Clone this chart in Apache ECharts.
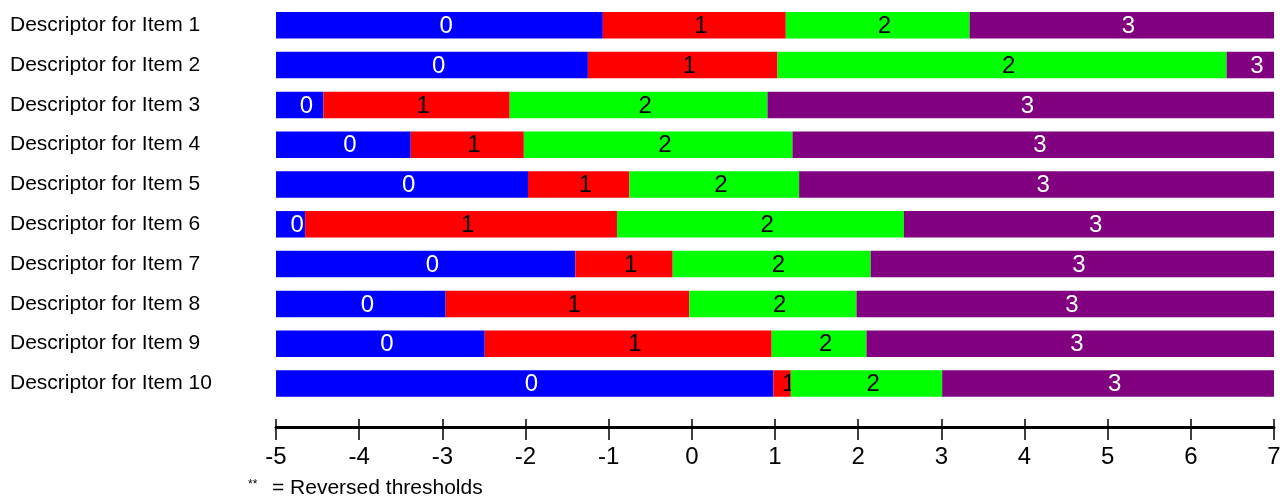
<!DOCTYPE html>
<html>
<head>
<meta charset="utf-8">
<script src="https://cdn.jsdelivr.net/npm/echarts@6/dist/echarts.min.js"></script>
<style>
  html, body { margin: 0; padding: 0; background: #ffffff; }
  #chart { width: 1284px; height: 498px; }
</style>
</head>
<body>
<div id="chart"></div>
<script>
// ---- data ----
const categories = [
  'Descriptor for Item 1', 'Descriptor for Item 2', 'Descriptor for Item 3',
  'Descriptor for Item 4', 'Descriptor for Item 5', 'Descriptor for Item 6',
  'Descriptor for Item 7', 'Descriptor for Item 8', 'Descriptor for Item 9',
  'Descriptor for Item 10'
];
const threshold1 = [-1.07, -1.25, -4.43, -3.38, -1.97, -4.65, -1.40, -2.96, -2.49, 0.98];
const threshold2 = [1.13, 1.03, -2.19, -2.02, -0.75, -0.90, -0.23, -0.03, 0.96, 1.19];
const threshold3 = [3.34, 6.43, 0.91, 1.21, 1.29, 2.55, 2.15, 1.98, 2.10, 3.01];
const scaleMin = -5;
const scaleMax = 7;
const segmentLabels = ['0', '1', '2', '3'];
const footnote = '= Reversed thresholds';

// ---- styles ----
const segColors = ['#0000ff', '#ff0000', '#00ff00', '#800080'];
const segTextColors = ['#ffffff', '#000000', '#000000', '#ffffff'];
const FONT = '"Liberation Sans", Arial, sans-serif';

const bounds = [
  categories.map(() => scaleMin),
  threshold1,
  threshold2,
  threshold3,
  categories.map(() => scaleMax)
];

function makeSeries(k) {
  const data = categories.map((c, i) => [bounds[k][i], bounds[k + 1][i], i]);
  return {
    type: 'custom',
    name: segmentLabels[k],
    xAxisIndex: 0,
    yAxisIndex: 0,
    encode: { x: [0, 1], y: 2 },
    data: data,
    renderItem: function (params, api) {
      const s = api.coord([api.value(0), api.value(2)]);
      const e = api.coord([api.value(1), api.value(2)]);
      const h = api.size([0, 1])[1] * 0.665;
      return {
        type: 'group',
        children: [
          {
            type: 'rect',
            shape: { x: s[0], y: s[1] - h / 2, width: e[0] - s[0], height: h },
            style: { fill: segColors[k] }
          },
          {
            type: 'text',
            x: (s[0] + e[0]) / 2,
            y: s[1] + 1,
            style: {
              text: segmentLabels[k],
              fill: segTextColors[k],
              font: '24px ' + FONT,
              align: 'left',
              verticalAlign: 'middle'
            }
          }
        ]
      };
    }
  };
}

const chart = echarts.init(document.getElementById('chart'), null, { renderer: 'canvas' });
chart.setOption({
  animation: false,
  backgroundColor: '#ffffff',
  grid: { left: 276, right: 10, top: 5.4, bottom: 94.6, containLabel: false },
  xAxis: [
    {
      type: 'value', min: scaleMin, max: scaleMax, interval: 1,
      position: 'bottom', offset: 23.5,
      axisLine: { show: true, lineStyle: { color: '#000', width: 3 } },
      axisTick: { show: true, length: 13, lineStyle: { color: '#000', width: 1.5 } },
      axisLabel: {
        show: true, color: '#000', fontSize: 24, fontFamily: FONT, margin: 18,
        showMinLabel: true, showMaxLabel: true
      },
      splitLine: { show: false }
    },
    {
      type: 'value', min: scaleMin, max: scaleMax, interval: 1,
      position: 'bottom', offset: 23.5,
      axisLine: { show: false },
      axisTick: { show: true, inside: true, length: 8, lineStyle: { color: '#000', width: 1.5 } },
      axisLabel: { show: false },
      splitLine: { show: false }
    }
  ],
  yAxis: {
    type: 'category', data: categories, inverse: true,
    axisLine: { show: false }, axisTick: { show: false }, splitLine: { show: false },
    axisLabel: { align: 'left', margin: 266, color: '#000', fontSize: 21, fontFamily: FONT }
  },
  series: [0, 1, 2, 3].map(makeSeries),
  graphic: [
    {
      type: 'text', left: 248, top: 479,
      style: { text: '**', fill: '#000', font: '12px ' + FONT }
    },
    {
      type: 'text', left: 272, top: 478,
      style: { text: footnote, fill: '#000', font: '21px ' + FONT }
    }
  ]
});
</script>
</body>
</html>
